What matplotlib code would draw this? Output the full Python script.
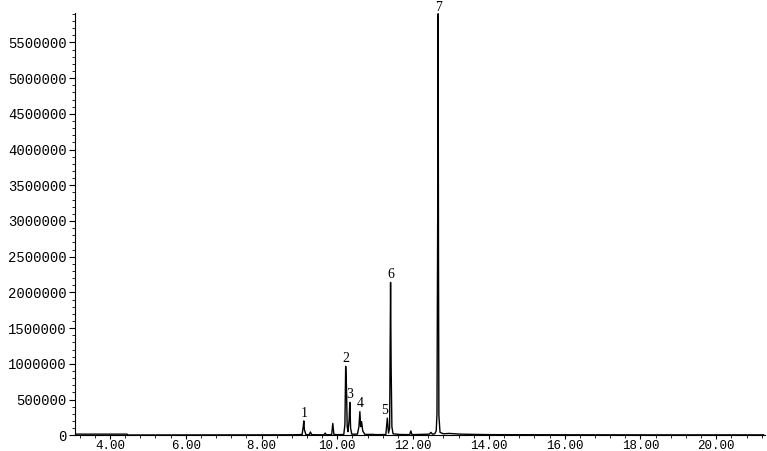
import matplotlib
matplotlib.use("Agg")
import matplotlib.pyplot as plt
from matplotlib.ticker import MultipleLocator, FormatStrFormatter

# retention time (min) and abundance
time = [3.10, 4.45, 4.47, 6.00, 8.00, 8.85, 9.07, 9.10, 9.115, 9.13, 9.17,
        9.26, 9.29, 9.32, 9.45, 9.65, 9.68, 9.71, 9.85, 9.88, 9.91, 10.00,
        10.17, 10.20, 10.22, 10.24, 10.26, 10.28, 10.31, 10.33, 10.35, 10.38,
        10.53, 10.57, 10.595, 10.615, 10.64, 10.67, 10.73, 10.90, 11.05,
        11.28, 11.32, 11.35, 11.38, 11.405, 11.42, 11.44, 11.47, 11.65,
        11.91, 11.94, 11.97, 12.25, 12.43, 12.47, 12.51, 12.57, 12.61, 12.63,
        12.65, 12.66, 12.67, 12.68, 12.71, 12.80, 12.95, 13.25, 13.55, 14.00,
        16.00, 18.00, 20.00, 21.25]
abundance = [15000, 15000, 3000, 4000, 5000, 6000, 10000, 120000, 200000,
             80000, 8000, 8000, 45000, 8000, 6000, 6000, 30000, 6000, 8000,
             165000, 10000, 8000, 10000, 150000, 965000, 690000, 120000,
             50000, 200000, 460000, 100000, 15000, 15000, 120000, 330000,
             120000, 190000, 60000, 10000, 12000, 8000, 10000, 240000, 30000,
             100000, 2140000, 950000, 120000, 20000, 10000, 8000, 60000, 8000,
             12000, 15000, 40000, 15000, 20000, 60000, 300000, 3270000,
             5900000, 2530000, 280000, 40000, 20000, 25000, 15000, 12000,
             8000, 6000, 5000, 5000, 5000]

peak_ids = ["1", "2", "3", "4", "5", "6", "7"]
peak_time = [9.115, 10.22, 10.33, 10.595, 11.32, 11.405, 12.66]
peak_height = [200000, 965000, 460000, 330000, 240000, 2140000, 5900000]

fig = plt.figure(figsize=(7.67, 4.51), dpi=100)
ax = fig.add_axes([0.098, 0.035, 0.899, 0.936])

ax.plot(time, abundance, color="black", lw=1.0)

for lab, t, h in zip(peak_ids, peak_time, peak_height):
    dx = -2 if lab == "5" else 0
    dy = 0 if lab == "7" else 1
    ax.annotate(lab, (t, h), xytext=(dx, dy), textcoords="offset points",
                ha="center", va="bottom", fontsize=10,
                family="Liberation Serif", annotation_clip=False)

ax.set_xlim(3.08, 21.28)
ax.set_ylim(0, 5910000)

ax.xaxis.set_major_locator(MultipleLocator(2))
ax.xaxis.set_minor_locator(MultipleLocator(0.4))
ax.xaxis.set_major_formatter(FormatStrFormatter("%.2f"))
ax.yaxis.set_major_locator(MultipleLocator(500000))
ax.yaxis.set_minor_locator(MultipleLocator(100000))
ax.yaxis.set_major_formatter(FormatStrFormatter("%d"))

ax.spines["top"].set_visible(False)
ax.spines["right"].set_visible(False)
ax.spines["left"].set_linewidth(0.8)
ax.spines["bottom"].set_linewidth(0.8)

ax.tick_params(axis="y", which="major", length=4, width=0.8, pad=2)
ax.tick_params(axis="x", which="major", length=3, width=0.8, pad=0.5)
ax.tick_params(which="minor", length=2, width=0.6)
for lbl in ax.get_yticklabels():
    lbl.set_family("Liberation Mono")
    lbl.set_fontsize(10)
for lbl in ax.get_xticklabels():
    lbl.set_family("Liberation Mono")
    lbl.set_fontsize(9)

fig.savefig("out.png", dpi=100)
